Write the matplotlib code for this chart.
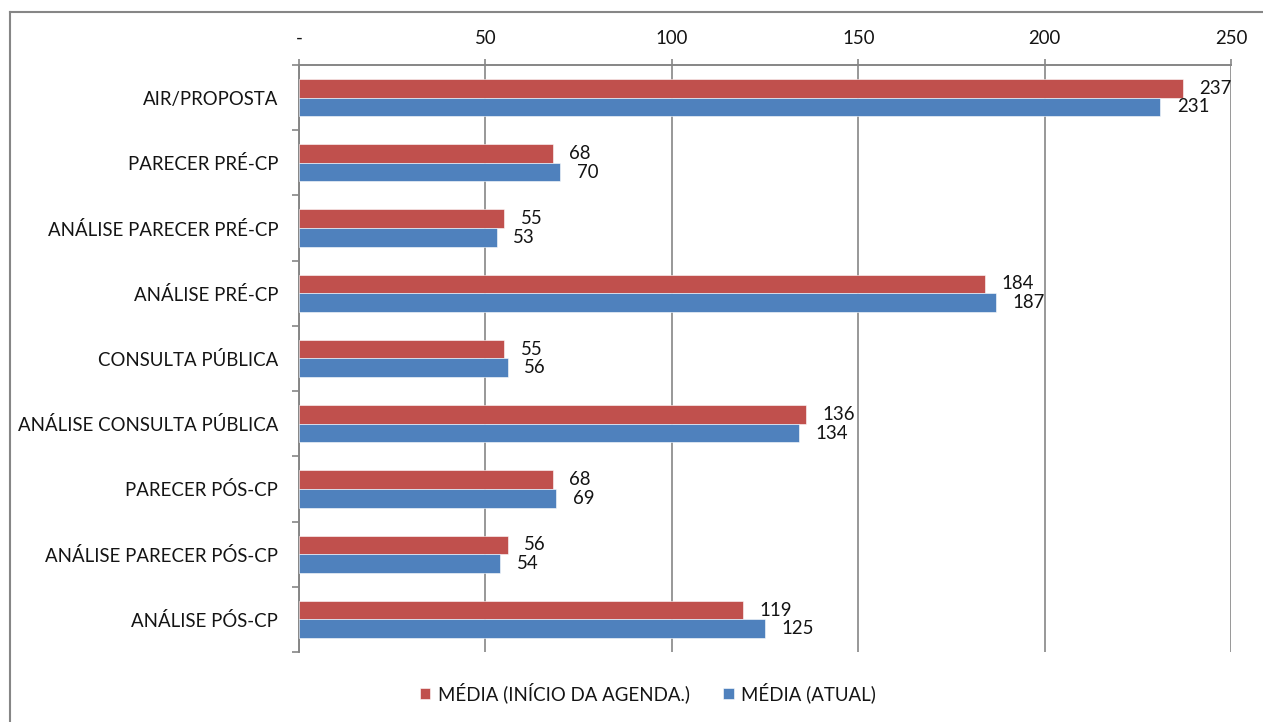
import matplotlib
matplotlib.use("Agg")
import matplotlib.pyplot as plt
from matplotlib.lines import Line2D
import numpy as np

categories = ["AIR/PROPOSTA", "PARECER PRÉ-CP", "ANÁLISE PARECER PRÉ-CP", "ANÁLISE PRÉ-CP",
              "CONSULTA PÚBLICA", "ANÁLISE CONSULTA PÚBLICA", "PARECER PÓS-CP",
              "ANÁLISE PARECER PÓS-CP", "ANÁLISE PÓS-CP"]
media_inicio = [237, 68, 55, 184, 55, 136, 68, 56, 119]
media_atual = [231, 70, 53, 187, 56, 134, 69, 54, 125]
series_names = ["MÉDIA (INÍCIO DA AGENDA.)", "MÉDIA (ATUAL)"]
xticks = [0, 50, 100, 150, 200, 250]
xtick_labels = ["-", "50", "100", "150", "200", "250"]

RED = "#C0504D"
BLUE = "#4F81BD"
GREY = "#868686"
TXT = "#141414"

plt.rcParams['font.family'] = ['Lato', 'DejaVu Sans']
FS = 13.4

fig = plt.figure(figsize=(12.63, 7.22), dpi=100)
ax = fig.add_axes([299/1263, 1 - 652/722, (1231-299)/1263, (652-65)/722])

y = np.arange(len(categories))
h = 0.286
b1 = ax.barh(y - h/2, media_inicio, height=h, color=RED, edgecolor="white", linewidth=0.4, label=series_names[0], zorder=3)
b2 = ax.barh(y + h/2, media_atual, height=h, color=BLUE, edgecolor="white", linewidth=0.4, label=series_names[1], zorder=3)

for yy, v in zip(y - h/2, media_inicio):
    ax.annotate(str(v), (v, yy), xytext=(12, 0), textcoords="offset points",
                ha="left", va="center", fontsize=FS, color=TXT)
for yy, v in zip(y + h/2, media_atual):
    ax.annotate(str(v), (v, yy), xytext=(12, 0), textcoords="offset points",
                ha="left", va="center", fontsize=FS, color=TXT)

ax.set_xlim(0, 250)
ax.set_ylim(len(categories) - 0.5, -0.5)

ax.xaxis.tick_top()
ax.set_xticks(xticks)
ax.set_xticklabels(xtick_labels, fontsize=FS, color=TXT)
ax.tick_params(axis="x", which="major", length=4, width=1.2, color=GREY, pad=9, direction="out")
ax.grid(axis="x", color=GREY, linewidth=1.2, zorder=0)

ax.set_yticks(y)
ax.set_yticklabels(categories, fontsize=FS, color=TXT)
ax.set_yticks(np.arange(len(categories) + 1) - 0.5, minor=True)
ax.tick_params(axis="y", which="major", length=0, pad=15)
ax.tick_params(axis="y", which="minor", length=5, width=1.2, color=GREY, direction="out")

for s in ["bottom", "right"]:
    ax.spines[s].set_visible(False)
for s in ["top", "left"]:
    ax.spines[s].set_color(GREY)
    ax.spines[s].set_linewidth(1.4)

leg = fig.legend(handles=[b1, b2], labels=series_names, loc="center",
                 bbox_to_anchor=(648/1263, 1 - 693/722), ncol=2, frameon=False,
                 fontsize=FS, handlelength=0.55, handleheight=0.55, handletextpad=0.4,
                 columnspacing=1.8)
for t in leg.get_texts():
    t.set_color(TXT)

# outer chart border (cut off on the right and bottom)
fig.add_artist(Line2D([10/1263, 1], [1 - 12/722, 1 - 12/722], transform=fig.transFigure, color=GREY, linewidth=1.5))
fig.add_artist(Line2D([10/1263, 10/1263], [0, 1 - 12/722], transform=fig.transFigure, color=GREY, linewidth=1.5))

fig.savefig("out.png", dpi=100)
